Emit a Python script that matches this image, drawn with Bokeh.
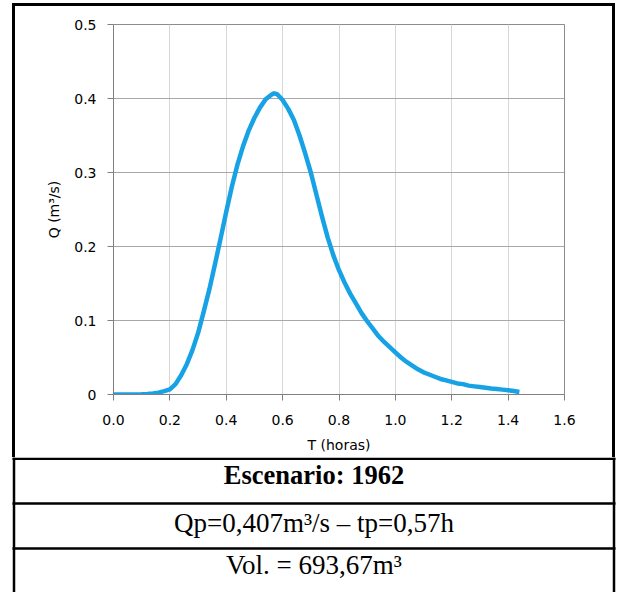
from bokeh.plotting import figure
from bokeh.models import FixedTicker, ColumnDataSource, Range1d, Spacer
from bokeh.layouts import column, row
from bokeh.core.properties import value
from bokeh.embed import file_html
from bokeh.resources import INLINE

# ---- data ----
t_horas = [0.00, 0.02, 0.04, 0.06, 0.08, 0.10, 0.12, 0.14, 0.16, 0.18,
           0.20, 0.22, 0.24, 0.26, 0.28, 0.30, 0.32, 0.34, 0.36, 0.38,
           0.40, 0.42, 0.44, 0.46, 0.48, 0.50, 0.52, 0.54, 0.56, 0.57,
           0.58, 0.60, 0.62, 0.64, 0.66, 0.68, 0.70, 0.72, 0.74, 0.76,
           0.78, 0.80, 0.82, 0.84, 0.86, 0.88, 0.90, 0.92, 0.94, 0.96,
           0.98, 1.00, 1.02, 1.04, 1.06, 1.08, 1.10, 1.12, 1.14, 1.16,
           1.18, 1.20, 1.22, 1.24, 1.26, 1.28, 1.30, 1.32, 1.34, 1.36,
           1.38, 1.40, 1.42, 1.44]
q_m3s = [0.000, 0.000, 0.000, 0.000, 0.000, 0.0003, 0.0008, 0.0015, 0.0025, 0.0045,
         0.007, 0.014, 0.026, 0.041, 0.060, 0.083, 0.112, 0.142, 0.176, 0.211,
         0.247, 0.281, 0.311, 0.336, 0.357, 0.374, 0.388, 0.399, 0.405, 0.407,
         0.406, 0.398, 0.386, 0.371, 0.350, 0.326, 0.300, 0.270, 0.240, 0.212,
         0.188, 0.168, 0.151, 0.136, 0.123, 0.110, 0.099, 0.089, 0.079, 0.071,
         0.064, 0.057, 0.050, 0.044, 0.039, 0.034, 0.030, 0.027, 0.024, 0.021,
         0.019, 0.017, 0.015, 0.014, 0.012, 0.011, 0.010, 0.009, 0.008, 0.0073,
         0.0066, 0.0058, 0.0048, 0.0035]
x_ticks = [0.0, 0.2, 0.4, 0.6, 0.8, 1.0, 1.2, 1.4, 1.6]
y_ticks = [0.0, 0.1, 0.2, 0.3, 0.4, 0.5]
x_title = "T (horas)"
y_title = "Q (m³/s)"
table_rows = ["Escenario: 1962", "Qp=0,407m³/s – tp=0,57h", "Vol. = 693,67m³"]

TICK_FONT = "DejaVu Sans"
SERIF = "Liberation Serif"
LW = 2.5
BOX = "black"


def bar(w, h):
    """A solid black strip of the outer box."""
    return Spacer(width=w, height=h, styles={"background-color": BOX})


# ---- chart ----
p = figure(width=597, height=451, output_backend="svg", toolbar_location=None,
           x_range=(0, 1.6), y_range=(0, 0.5),
           min_border_left=98, min_border_right=48, min_border_top=18, min_border_bottom=63,
           frame_width=451, frame_height=370)
p.background_fill_color = "white"
p.border_fill_color = "white"
p.outline_line_color = "#8c8c8c"
p.outline_line_width = 1

src = ColumnDataSource(dict(t=t_horas, q=q_m3s))
p.line("t", "q", source=src, line_color="#17A2E6", line_width=4.5, line_join="round", line_cap="butt")

p.xaxis.ticker = FixedTicker(ticks=x_ticks)
p.yaxis.ticker = FixedTicker(ticks=y_ticks)
p.yaxis.major_label_overrides = {0: "0"}
p.xaxis.major_label_overrides = {0: "0.0", 1: "1.0"}
for ax in (p.xaxis[0], p.yaxis[0]):
    ax.axis_line_color = "#808080"
    ax.axis_line_width = 1
    ax.major_tick_line_color = "#808080"
    ax.major_tick_in = 0
    ax.major_tick_out = 6
    ax.minor_tick_line_color = None
    ax.major_label_text_font = TICK_FONT
    ax.major_label_text_font_size = "14px"
    ax.major_label_text_color = "black"
    ax.axis_label_text_font = TICK_FONT
    ax.axis_label_text_font_size = "14px"
    ax.axis_label_text_font_style = "normal"
    ax.axis_label_text_color = "black"
p.xaxis.axis_label = x_title
p.yaxis.axis_label = y_title
p.xaxis.major_label_standoff = 14
p.yaxis.major_label_standoff = 11
p.xaxis.axis_label_standoff = 9
p.yaxis.axis_label_standoff = 9

p.xgrid.grid_line_color = "#d6d6d6"
p.ygrid.grid_line_color = "#a8a8a8"

# ---- table below ----
TW, TH = 617, 135
tab = figure(width=TW, height=TH, output_backend="svg", toolbar_location=None,
             x_range=Range1d(0, TW), y_range=Range1d(TH, 0),
             x_axis_type=None, y_axis_type=None, title=None,
             min_border=0, min_border_left=0, min_border_right=0,
             min_border_top=0, min_border_bottom=0)
tab.outline_line_color = None
tab.background_fill_color = "white"
tab.border_fill_color = "white"
tab.grid.visible = False
tab.segment(x0=[12, 12, 12, 13.5, 613.5], y0=[1.25, 46, 91, 0, 0],
            x1=[615, 615, 615, 13.5, 613.5], y1=[1.25, 46, 91, TH, TH],
            line_color=BOX, line_width=LW)
tab.text(x=[313.5], y=[17], text=[table_rows[0]], text_font=value(SERIF),
         text_font_size=value("26.5px"), text_font_style="bold",
         text_align="center", text_baseline="alphabetic", text_color="black")
tab.text(x=[313.5, 313.5], y=[65, 107.5], text=table_rows[1:], text_font=value(SERIF),
         text_font_size=value("27px"), text_font_style="normal",
         text_align="center", text_baseline="alphabetic", text_color="black")

layout = column(
    Spacer(width=617, height=3),
    row(Spacer(width=12, height=3), bar(603, 3), spacing=0),
    row(Spacer(width=12, height=451), bar(3, 451), p, bar(3, 451), spacing=0),
    tab,
    spacing=0,
)
open("out.html", "w").write(file_html(layout, INLINE))
